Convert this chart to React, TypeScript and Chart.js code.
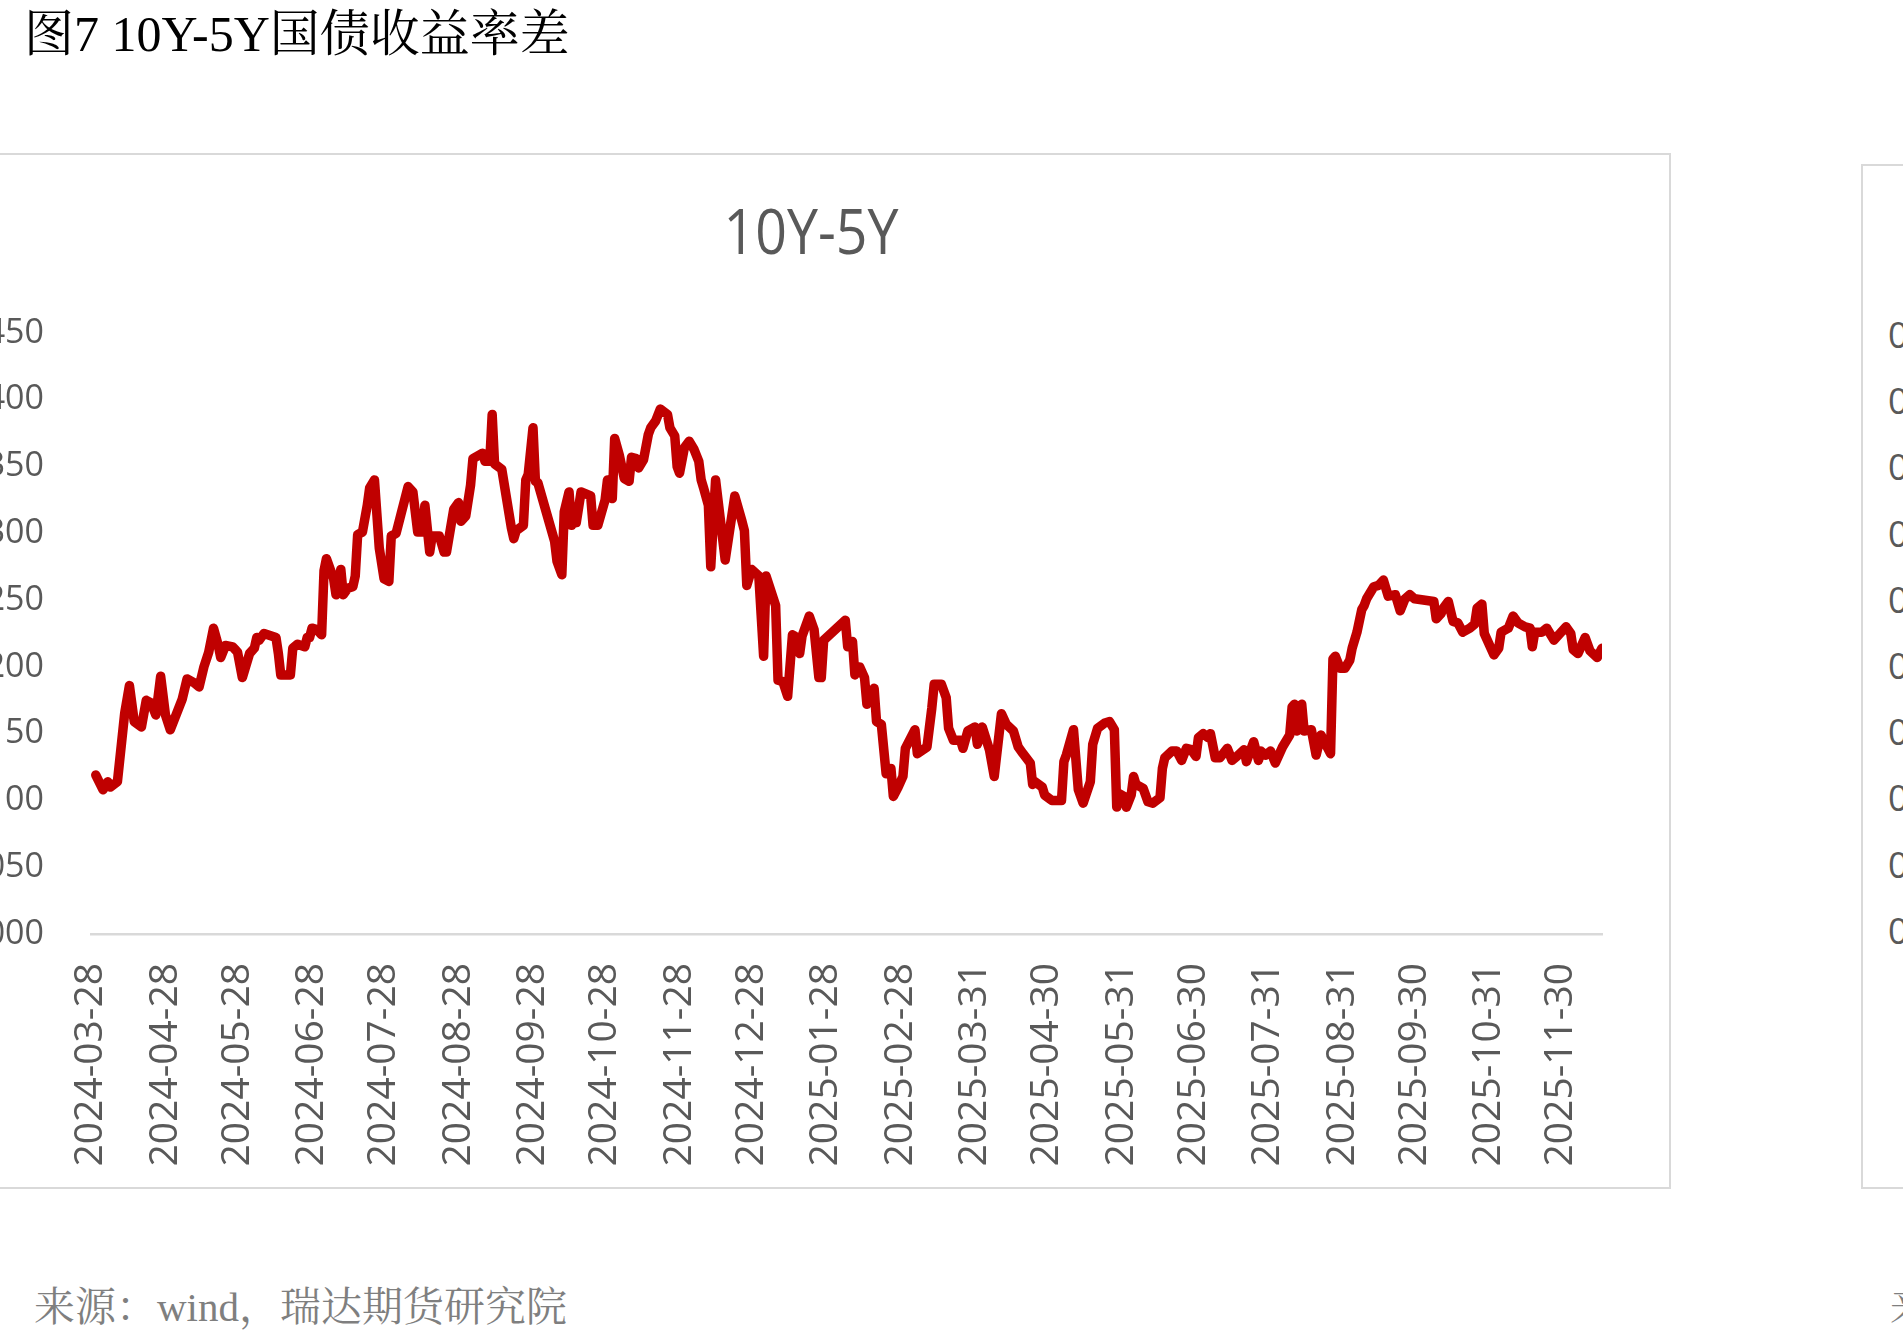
import React, { useEffect, useRef } from 'react';
import { Chart, registerables } from 'chart.js';

Chart.register(...registerables);

// 10Y-5Y 国债收益率差（%），读自原图折线拐点
const dates = [
    '2024-03-30', '2024-04-02', '2024-04-04', '2024-04-05', '2024-04-08', '2024-04-11', '2024-04-13', '2024-04-15', '2024-04-18', '2024-04-20',
    '2024-04-22', '2024-04-24', '2024-04-26', '2024-04-28', '2024-04-30', '2024-05-05', '2024-05-07', '2024-05-10', '2024-05-12', '2024-05-14',
    '2024-05-16', '2024-05-18', '2024-05-20', '2024-05-21', '2024-05-23', '2024-05-26', '2024-05-27', '2024-05-28', '2024-05-30', '2024-05-31',
    '2024-06-02', '2024-06-04', '2024-06-05', '2024-06-06', '2024-06-08', '2024-06-13', '2024-06-14', '2024-06-15', '2024-06-19', '2024-06-20',
    '2024-06-22', '2024-06-25', '2024-06-26', '2024-06-27', '2024-06-28', '2024-06-30', '2024-07-02', '2024-07-03', '2024-07-04', '2024-07-07',
    '2024-07-08', '2024-07-10', '2024-07-11', '2024-07-13', '2024-07-15', '2024-07-16', '2024-07-17', '2024-07-19', '2024-07-21', '2024-07-22',
    '2024-07-24', '2024-07-26', '2024-07-28', '2024-07-30', '2024-07-31', '2024-08-02', '2024-08-04', '2024-08-07', '2024-08-09', '2024-08-11',
    '2024-08-13', '2024-08-14', '2024-08-16', '2024-08-17', '2024-08-20', '2024-08-22', '2024-08-23', '2024-08-26', '2024-08-28', '2024-08-29',
    '2024-08-31', '2024-09-02', '2024-09-03', '2024-09-05', '2024-09-07', '2024-09-08', '2024-09-10', '2024-09-11', '2024-09-12', '2024-09-15',
    '2024-09-17', '2024-09-19', '2024-09-20', '2024-09-21', '2024-09-24', '2024-09-25', '2024-09-26', '2024-09-28', '2024-09-29', '2024-09-30',
    '2024-10-07', '2024-10-08', '2024-10-10', '2024-10-11', '2024-10-13', '2024-10-14', '2024-10-15', '2024-10-16', '2024-10-18', '2024-10-22',
    '2024-10-23', '2024-10-25', '2024-10-28', '2024-10-29', '2024-10-31', '2024-11-01', '2024-11-03', '2024-11-05', '2024-11-07', '2024-11-08',
    '2024-11-10', '2024-11-11', '2024-11-13', '2024-11-15', '2024-11-16', '2024-11-18', '2024-11-20', '2024-11-23', '2024-11-24', '2024-11-26',
    '2024-11-27', '2024-11-28', '2024-11-30', '2024-12-02', '2024-12-04', '2024-12-06', '2024-12-07', '2024-12-08', '2024-12-10', '2024-12-11',
    '2024-12-13', '2024-12-17', '2024-12-21', '2024-12-24', '2024-12-25', '2024-12-26', '2024-12-28', '2024-12-31', '2025-01-02', '2025-01-03',
    '2025-01-07', '2025-01-08', '2025-01-10', '2025-01-12', '2025-01-14', '2025-01-15', '2025-01-17', '2025-01-18', '2025-01-21', '2025-01-23',
    '2025-01-25', '2025-01-26', '2025-01-27', '2025-02-05', '2025-02-06', '2025-02-08', '2025-02-09', '2025-02-11', '2025-02-13', '2025-02-14',
    '2025-02-17', '2025-02-18', '2025-02-20', '2025-02-22', '2025-02-24', '2025-02-25', '2025-02-27', '2025-03-01', '2025-03-02', '2025-03-06',
    '2025-03-07', '2025-03-11', '2025-03-13', '2025-03-14', '2025-03-17', '2025-03-19', '2025-03-20', '2025-03-22', '2025-03-25', '2025-03-26',
    '2025-03-28', '2025-03-31', '2025-04-01', '2025-04-03', '2025-04-06', '2025-04-08', '2025-04-11', '2025-04-13', '2025-04-16', '2025-04-18',
    '2025-04-20', '2025-04-23', '2025-04-24', '2025-04-25', '2025-04-28', '2025-04-29', '2025-05-02', '2025-05-06', '2025-05-07', '2025-05-08',
    '2025-05-11', '2025-05-13', '2025-05-15', '2025-05-18', '2025-05-19', '2025-05-21', '2025-05-24', '2025-05-26', '2025-05-28', '2025-05-29',
    '2025-05-30', '2025-06-01', '2025-06-02', '2025-06-04', '2025-06-05', '2025-06-06', '2025-06-09', '2025-06-11', '2025-06-13', '2025-06-16',
    '2025-06-17', '2025-06-18', '2025-06-21', '2025-06-23', '2025-06-25', '2025-06-27', '2025-06-29', '2025-07-01', '2025-07-02', '2025-07-04',
    '2025-07-06', '2025-07-07', '2025-07-09', '2025-07-11', '2025-07-14', '2025-07-16', '2025-07-18', '2025-07-21', '2025-07-22', '2025-07-25',
    '2025-07-27', '2025-07-28', '2025-07-30', '2025-08-01', '2025-08-03', '2025-08-06', '2025-08-09', '2025-08-10', '2025-08-11', '2025-08-12',
    '2025-08-14', '2025-08-15', '2025-08-18', '2025-08-20', '2025-08-22', '2025-08-26', '2025-08-27', '2025-08-28', '2025-08-30', '2025-09-01',
    '2025-09-03', '2025-09-04', '2025-09-06', '2025-09-08', '2025-09-09', '2025-09-10', '2025-09-13', '2025-09-15', '2025-09-17', '2025-09-19',
    '2025-09-22', '2025-09-24', '2025-09-26', '2025-09-28', '2025-09-30', '2025-10-08', '2025-10-09', '2025-10-11', '2025-10-12', '2025-10-14',
    '2025-10-16', '2025-10-18', '2025-10-20', '2025-10-23', '2025-10-25', '2025-10-26', '2025-10-28', '2025-10-29', '2025-11-02', '2025-11-04',
    '2025-11-05', '2025-11-08', '2025-11-10', '2025-11-12', '2025-11-15', '2025-11-17', '2025-11-18', '2025-11-19', '2025-11-22', '2025-11-24',
    '2025-11-27', '2025-12-02', '2025-12-04', '2025-12-05', '2025-12-07', '2025-12-10', '2025-12-12', '2025-12-15', '2025-12-17',
];

const spread = [
    0.119, 0.108, 0.114, 0.110, 0.114, 0.165, 0.186, 0.159, 0.155, 0.175,
    0.173, 0.164, 0.193, 0.164, 0.153, 0.176, 0.191, 0.188, 0.185, 0.200,
    0.211, 0.229, 0.216, 0.207, 0.216, 0.215, 0.213, 0.211, 0.192, 0.198,
    0.210, 0.214, 0.222, 0.220, 0.225, 0.222, 0.210, 0.194, 0.194, 0.214,
    0.217, 0.215, 0.222, 0.222, 0.229, 0.228, 0.224, 0.272, 0.281, 0.266,
    0.254, 0.273, 0.254, 0.259, 0.260, 0.268, 0.299, 0.301, 0.321, 0.334,
    0.340, 0.289, 0.266, 0.264, 0.298, 0.300, 0.314, 0.335, 0.331, 0.301,
    0.301, 0.321, 0.286, 0.298, 0.298, 0.286, 0.286, 0.318, 0.323, 0.309,
    0.313, 0.336, 0.356, 0.358, 0.360, 0.354, 0.354, 0.389, 0.352, 0.348,
    0.326, 0.304, 0.296, 0.302, 0.306, 0.340, 0.344, 0.379, 0.339, 0.338,
    0.294, 0.279, 0.269, 0.316, 0.331, 0.306, 0.320, 0.308, 0.331, 0.328,
    0.306, 0.306, 0.325, 0.340, 0.326, 0.371, 0.358, 0.341, 0.339, 0.357,
    0.356, 0.349, 0.355, 0.374, 0.379, 0.384, 0.393, 0.389, 0.379, 0.373,
    0.350, 0.345, 0.364, 0.369, 0.363, 0.354, 0.340, 0.334, 0.321, 0.275,
    0.340, 0.280, 0.328, 0.309, 0.302, 0.261, 0.273, 0.268, 0.208, 0.268,
    0.246, 0.190, 0.189, 0.178, 0.224, 0.223, 0.210, 0.223, 0.238, 0.228,
    0.192, 0.192, 0.220, 0.235, 0.215, 0.219, 0.194, 0.200, 0.192, 0.172,
    0.184, 0.159, 0.157, 0.120, 0.124, 0.103, 0.110, 0.118, 0.139, 0.153,
    0.135, 0.140, 0.169, 0.187, 0.187, 0.177, 0.154, 0.145, 0.145, 0.139,
    0.152, 0.155, 0.142, 0.155, 0.138, 0.118, 0.165, 0.157, 0.152, 0.140,
    0.135, 0.128, 0.112, 0.114, 0.110, 0.104, 0.100, 0.100, 0.129, 0.134,
    0.153, 0.108, 0.098, 0.114, 0.142, 0.154, 0.158, 0.159, 0.153, 0.095,
    0.105, 0.103, 0.095, 0.104, 0.118, 0.112, 0.109, 0.099, 0.098, 0.102,
    0.124, 0.132, 0.137, 0.137, 0.130, 0.139, 0.138, 0.133, 0.147, 0.150,
    0.147, 0.150, 0.132, 0.132, 0.139, 0.130, 0.133, 0.138, 0.129, 0.144,
    0.130, 0.137, 0.134, 0.137, 0.128, 0.140, 0.149, 0.170, 0.172, 0.152,
    0.172, 0.152, 0.153, 0.134, 0.149, 0.135, 0.206, 0.208, 0.199, 0.199,
    0.205, 0.214, 0.226, 0.243, 0.246, 0.251, 0.260, 0.261, 0.265, 0.253,
    0.254, 0.242, 0.251, 0.254, 0.251, 0.249, 0.236, 0.240, 0.244, 0.249,
    0.234, 0.233, 0.226, 0.229, 0.232, 0.244, 0.247, 0.225, 0.209, 0.214,
    0.226, 0.229, 0.238, 0.233, 0.230, 0.229, 0.215, 0.226, 0.226, 0.229,
    0.220, 0.230, 0.225, 0.213, 0.210, 0.222, 0.212, 0.207, 0.214,
];

const tickDates = [
    '2024-03-28', '2024-04-28', '2024-05-28', '2024-06-28', '2024-07-28', '2024-08-28', '2024-09-28',
    '2024-10-28', '2024-11-28', '2024-12-28', '2025-01-28', '2025-02-28', '2025-03-31', '2025-04-30',
    '2025-05-31', '2025-06-30', '2025-07-31', '2025-08-31', '2025-09-30', '2025-10-31', '2025-11-30',
];

const yMin = 0;
const yMax = 0.45;
const yStep = 0.05;

// 右侧被裁掉的相邻图表，只露出纵轴标签的首字符
const sideLabels = ['0.45', '0.40', '0.35', '0.30', '0.25', '0.20', '0.15', '0.10', '0.05', '0.00'];

const DAY_MS = 86400000;
const toUtc = (s: string) => {
    const [y, m, d] = s.split('-').map(Number);
    return Date.UTC(y, m - 1, d);
};
const baseUtc = toUtc(tickDates[0]);
const dayOf = (s: string) => (toUtc(s) - baseUtc) / DAY_MS;

const tickDays = tickDates.map(dayOf);

const axisFont = '"Open Sans", sans-serif';

const SpreadChart = () => {
    const canvasRef = useRef<HTMLCanvasElement | null>(null);
    const chartRef = useRef<Chart | null>(null);

    useEffect(() => {
        if (!canvasRef.current) return;
        if (chartRef.current) chartRef.current.destroy();

        chartRef.current = new Chart(canvasRef.current, {
            type: 'line',
            data: {
                datasets: [{
                    label: '10Y-5Y',
                    data: dates.map((d, i) => ({ x: dayOf(d), y: spread[i] })),
                    borderColor: '#c00000',
                    borderWidth: 9.5,
                    borderJoinStyle: 'round',
                    borderCapStyle: 'round',
                    pointRadius: 0,
                    tension: 0,
                    fill: false,
                }],
            },
            options: {
                animation: false,
                responsive: true,
                maintainAspectRatio: false,
                layout: { padding: { top: 178, right: 67, bottom: 0, left: 0 } },
                plugins: {
                    legend: { display: false },
                    tooltip: { enabled: false },
                    title: { display: false },
                },
                scales: {
                    x: {
                        type: 'linear',
                        min: 0,
                        max: dayOf(dates[dates.length - 1]),
                        afterBuildTicks: (scale: any) => { scale.ticks = tickDays.map((v) => ({ value: v })); },
                        afterFit: (scale: any) => { scale.height = 253; },
                        grid: { display: false, drawTicks: false },
                        border: { display: true, color: '#d9d9d9', width: 2.5 },
                        ticks: {
                            autoSkip: false,
                            minRotation: 90,
                            maxRotation: 90,
                            padding: 29,
                            color: '#595959',
                            font: { family: axisFont, size: 39 },
                            callback: (v: any) => {
                                const i = tickDays.indexOf(Number(v));
                                return i >= 0 ? tickDates[i] : '';
                            },
                        },
                    },
                    y: {
                        min: yMin,
                        max: yMax,
                        afterFit: (scale: any) => { scale.width = 169; },
                        grid: { display: false, drawTicks: false },
                        border: { display: false },
                        ticks: {
                            stepSize: yStep,
                            padding: 47,
                            color: '#595959',
                            font: { family: axisFont, size: 34 },
                            callback: (v: any) => Number(v).toFixed(3),
                        },
                    },
                },
            },
        } as any);

        return () => { if (chartRef.current) { chartRef.current.destroy(); chartRef.current = null; } };
    }, []);

    return (
        <div style={{ width: 1747, height: 1032, position: 'relative' }}>
            <canvas ref={canvasRef}></canvas>
        </div>
    );
};

const App = () => {
    const serifCjk = '"Liberation Serif", "Noto Serif CJK SC", "Noto Sans CJK SC", serif';
    return (
        <div style={{ position: 'absolute', left: 0, top: 0, width: 1903, height: 1341, overflow: 'hidden', background: '#fff' }}>
            <div style={{ position: 'absolute', left: 24, top: 9, fontSize: 50, lineHeight: '50px', fontFamily: serifCjk, color: '#000', whiteSpace: 'pre' }}>
                图7 10Y-5Y国债收益率差
            </div>

            <div style={{ position: 'absolute', left: -80, top: 153, width: 1751, height: 1036, border: '2px solid #d9d9d9', boxSizing: 'border-box', background: '#fff' }}>
                <SpreadChart />
            </div>
            <div style={{ position: 'absolute', left: 611, top: 198, width: 400, textAlign: 'center', fontSize: 63, lineHeight: '63px', fontFamily: axisFont, color: '#595959', transform: 'scaleX(0.88)', transformOrigin: '50% 50%' }}>
                10Y-5Y
            </div>

            <div style={{ position: 'absolute', left: 1861, top: 164, width: 400, height: 1025, border: '2px solid #d9d9d9', boxSizing: 'border-box' }}></div>
            {sideLabels.map((t, i) => (
                <div key={t} style={{ position: 'absolute', left: 1888, top: 335 + i * 66.2 - 22, height: 44, lineHeight: '44px', fontSize: 36, fontFamily: axisFont, color: '#595959', whiteSpace: 'pre' }}>
                    {t}
                </div>
            ))}

            <div style={{ position: 'absolute', left: 34, top: 1287, fontSize: 41, lineHeight: '41px', fontFamily: serifCjk, color: '#7f7f7f', whiteSpace: 'pre' }}>
                来源：wind，瑞达期货研究院
            </div>
            <div style={{ position: 'absolute', left: 1890, top: 1287, fontSize: 41, lineHeight: '41px', fontFamily: serifCjk, color: '#7f7f7f', whiteSpace: 'pre' }}>
                来源：wind，瑞达期货研究院
            </div>
        </div>
    );
};

export default App;
